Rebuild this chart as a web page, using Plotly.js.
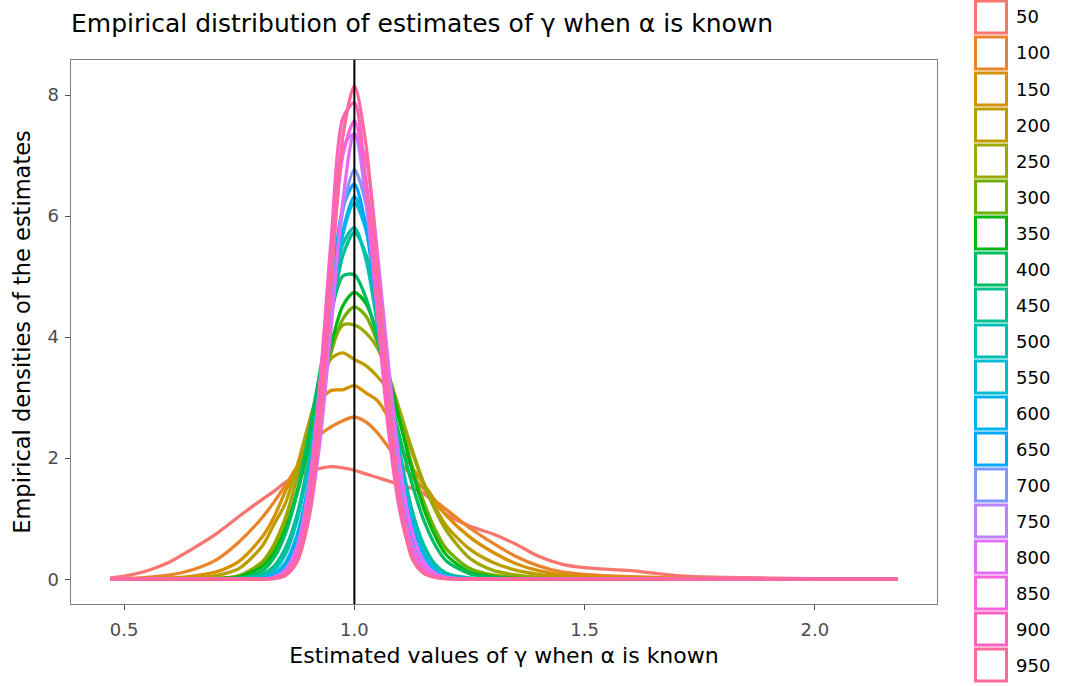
<!DOCTYPE html>
<html><head><meta charset="utf-8">
<script src="https://cdn.plot.ly/plotly-3.0.1.min.js"></script>
<style>html,body{margin:0;padding:0;background:#fff}#chart{width:1084px;height:686px}</style>
</head><body><div id="chart"></div>
<script>
// Shared grid of estimated gamma values (x)
const xGrid = [0.47,0.5,0.55,0.6,0.65,0.7,0.75,0.8,0.825,0.85,0.875,0.9,0.925,0.95,0.975,1.0,1.025,1.05,1.075,1.1,1.125,1.15,1.175,1.2,1.25,1.3,1.35,1.4,1.45,1.5,1.6,1.7,1.8,2.0,2.18];
const sampleSizes = ["50","100","150","200","250","300","350","400","450","500","550","600","650","700","750","800","850","900","950"];

// Densities, one array per sample size
const d50  = [0.02,0.05,0.14,0.29,0.51,0.75,1.04,1.32,1.45,1.6,1.7,1.78,1.83,1.86,1.84,1.8,1.74,1.68,1.62,1.56,1.5,1.42,1.25,1.07,0.88,0.75,0.58,0.38,0.25,0.19,0.14,0.06,0.03,0.01,0];
const d100 = [0,0.01,0.03,0.07,0.16,0.32,0.62,1.02,1.27,1.55,1.85,2.1,2.38,2.52,2.62,2.68,2.6,2.42,2.17,1.93,1.7,1.5,1.3,1.15,0.85,0.6,0.38,0.22,0.12,0.08,0.04,0.02,0.01,0,0];
const d150 = [0,0,0.01,0.02,0.05,0.12,0.3,0.7,1.02,1.45,1.85,2.35,2.95,3.12,3.13,3.2,3.08,2.95,2.65,2.2,1.85,1.58,1.3,1.05,0.7,0.45,0.26,0.14,0.07,0.04,0.02,0.01,0,0,0];
const d200 = [0,0,0,0.01,0.02,0.06,0.18,0.55,0.9,1.25,1.85,2.55,3.2,3.65,3.74,3.63,3.53,3.35,3.1,2.6,2.1,1.6,1.2,0.88,0.5,0.28,0.15,0.08,0.04,0.02,0.01,0,0,0,0];
const d250 = [0,0,0,0,0,0.01,0.06,0.29,0.57,1.01,1.66,2.42,3.2,3.85,4.2,4.2,4.07,3.82,3.35,2.75,2.15,1.6,1.15,0.8,0.35,0.15,0.07,0.03,0.01,0.01,0,0,0,0,0];
const d300 = [0,0,0,0,0,0.01,0.05,0.25,0.49,0.87,1.44,2.19,3.0,3.76,4.3,4.5,4.35,3.91,3.29,2.59,1.88,1.29,0.83,0.5,0.18,0.07,0.03,0.01,0,0,0,0,0,0,0];
const d350 = [0,0,0,0,0,0.01,0.04,0.21,0.43,0.81,1.4,2.17,3.05,3.89,4.52,4.74,4.56,4.05,3.37,2.57,1.81,1.18,0.72,0.4,0.12,0.04,0.01,0,0,0,0,0,0,0,0];
const d400 = [0,0,0,0,0,0,0.02,0.14,0.35,0.75,1.41,2.35,3.42,4.42,5.01,5.03,4.65,3.98,3.14,2.3,1.58,0.99,0.57,0.3,0.09,0.03,0.01,0,0,0,0,0,0,0,0];
const d450 = [0,0,0,0,0,0,0.01,0.08,0.21,0.51,1.05,1.95,3.13,4.35,5.35,5.73,5.37,4.45,3.23,2.06,1.15,0.58,0.25,0.1,0.02,0,0,0,0,0,0,0,0,0,0];
const d500 = [0,0,0,0,0,0,0,0.05,0.15,0.41,0.96,1.87,3.15,4.52,5.54,5.81,5.29,4.2,2.91,1.78,0.94,0.43,0.17,0.06,0.01,0,0,0,0,0,0,0,0,0,0];
const d550 = [0,0,0,0,0,0,0,0.02,0.09,0.27,0.72,1.55,2.85,4.4,5.7,6.22,5.78,4.66,3.25,1.96,1.04,0.47,0.19,0.06,0.01,0,0,0,0,0,0,0,0,0,0];
const d600 = [0,0,0,0,0,0,0,0.01,0.07,0.22,0.61,1.43,2.75,4.36,5.75,6.32,5.86,4.66,3.19,1.87,0.94,0.41,0.15,0.05,0.01,0,0,0,0,0,0,0,0,0,0];
const d650 = [0,0,0,0,0,0,0,0.01,0.06,0.23,0.66,1.54,3.0,4.76,6.14,6.53,5.83,4.41,2.85,1.57,0.72,0.29,0.1,0.03,0,0,0,0,0,0,0,0,0,0,0];
const d700 = [0,0,0,0,0,0,0,0,0.04,0.16,0.51,1.29,2.68,4.47,6.09,6.77,6.21,4.79,3.1,1.69,0.78,0.3,0.1,0.03,0,0,0,0,0,0,0,0,0,0,0];
const d750 = [0,0,0,0,0,0,0,0,0.03,0.15,0.53,1.48,3.2,5.42,7.14,7.36,6.24,4.39,2.53,1.23,0.5,0.18,0.06,0.02,0,0,0,0,0,0,0,0,0,0,0];
const d800 = [0,0,0,0,0,0,0,0,0.02,0.09,0.32,0.96,2.26,4.21,6.25,7.35,6.95,5.4,3.47,1.83,0.8,0.3,0.1,0.03,0,0,0,0,0,0,0,0,0,0,0];
const d850 = [0,0,0,0,0,0,0,0,0.02,0.11,0.43,1.25,2.85,5.07,7.01,7.57,6.6,4.8,2.85,1.4,0.56,0.2,0.06,0.02,0,0,0,0,0,0,0,0,0,0,0];
const d900 = [0,0,0,0,0,0,0,0,0.02,0.11,0.45,1.38,3.2,5.66,7.62,7.87,6.52,4.42,2.4,1.08,0.4,0.12,0.04,0.01,0,0,0,0,0,0,0,0,0,0,0];
const d950 = [0,0,0,0,0,0,0,0,0.01,0.06,0.28,0.98,2.6,4.95,7.32,8.15,7.19,5.15,2.98,1.25,0.35,0.1,0.03,0.01,0,0,0,0,0,0,0,0,0,0,0];
const densities = [d50,d100,d150,d200,d250,d300,d350,d400,d450,d500,d550,d600,d650,d700,d750,d800,d850,d900,d950];

const trueGamma = 1.0;
const xTicks = [0.5,1.0,1.5,2.0];
const yTicks = [0,2,4,6,8];

// ggplot-like hue palette (HCL, c=100, l=65)
function hcl(h,c,l){
  const XN=95.047,YN=100,ZN=108.883;
  const hr=h*Math.PI/180, U=c*Math.cos(hr), V=c*Math.sin(hr);
  const Y=YN*Math.pow((l+16)/116,3);
  const den=XN+15*YN+3*ZN, uN=4*XN/den, vN=9*YN/den;
  const u=U/(13*l)+uN, v=V/(13*l)+vN;
  const X=9*Y*u/(4*v), Z=-X/3-5*Y+3*Y/v;
  const x=X/100,y=Y/100,z=Z/100;
  const lin=[3.240479*x-1.537150*y-0.498535*z, -0.969256*x+1.875992*y+0.041556*z, 0.055648*x-0.204043*y+1.057311*z];
  return '#'+lin.map(t=>{t=t<=0.0031308?12.92*t:1.055*Math.pow(t,1/2.4)-0.055;t=Math.max(0,Math.min(1,t));return Math.round(t*255).toString(16).padStart(2,'0');}).join('');
}
const n=sampleSizes.length;
const colors=sampleSizes.map((_,i)=>hcl(15+360*i/n,100,65));

const traces=densities.map((d,i)=>({
  type:'scatter',mode:'lines',x:xGrid,y:d,name:sampleSizes[i],
  line:{color:colors[i],width:3.3,shape:'spline',smoothing:0.8},
  hoverinfo:'skip',showlegend:false
}));

// plot area in pixels
const L=71,R=937,T=60,B=604,W=1084,H=686;
const px=x=>(x-L)/(R-L), py=y=>(B-y)/(B-T);
const FONT='DejaVu Sans, Liberation Sans, Arial, sans-serif';

const shapes=[{type:'line',xref:'x',yref:'paper',x0:trueGamma,x1:trueGamma,y0:0,y1:1,line:{color:'#000',width:2},layer:'above'}];
const annotations=[];
sampleSizes.forEach((s,i)=>{
  const cy=17+36*i;
  shapes.push({type:'rect',xref:'paper',yref:'paper',x0:px(975.5),x1:px(1006.5),y0:py(cy+16),y1:py(cy-16),line:{color:colors[i],width:3},fillcolor:'rgba(0,0,0,0)',layer:'above'});
  annotations.push({xref:'paper',yref:'paper',x:px(1014),y:py(cy),xanchor:'left',yanchor:'middle',text:s,showarrow:false,font:{family:FONT,size:18,color:'#000'}});
});

const layout={
  width:W,height:H,
  margin:{l:L,r:W-R,t:T,b:H-B},
  paper_bgcolor:'#fff',plot_bgcolor:'#fff',
  font:{family:FONT},
  title:{text:'Empirical distribution of estimates of γ when α is known',x:0,xref:'paper',xanchor:'left',y:1-23/H,yref:'container',yanchor:'middle',font:{family:FONT,size:25,color:'#000'}},
  xaxis:{range:[0.3845,2.2655],tickvals:xTicks,ticktext:xTicks.map(v=>v.toFixed(1)),showgrid:false,zeroline:false,
    showline:true,mirror:true,linecolor:'#7f7f7f',linewidth:1.4,ticks:'outside',ticklen:5,tickcolor:'#4d4d4d',ticklabelstandoff:4,
    tickfont:{family:FONT,size:18,color:'#4d4d4d'},title:{text:'Estimated values of γ when α is known',font:{family:FONT,size:22,color:'#000'},standoff:8}},
  yaxis:{range:[-0.41,8.58],tickvals:yTicks,showgrid:false,zeroline:false,
    showline:true,mirror:true,linecolor:'#7f7f7f',linewidth:1.4,ticks:'outside',ticklen:5,tickcolor:'#4d4d4d',ticklabelstandoff:2,
    tickfont:{family:FONT,size:18,color:'#4d4d4d'},title:{text:'Empirical densities of the estimates',font:{family:FONT,size:22.5,color:'#000'},standoff:10}},
  shapes:shapes,annotations:annotations,showlegend:false
};
Plotly.newPlot('chart',traces,layout,{displayModeBar:false,staticPlot:true});
</script></body></html>
